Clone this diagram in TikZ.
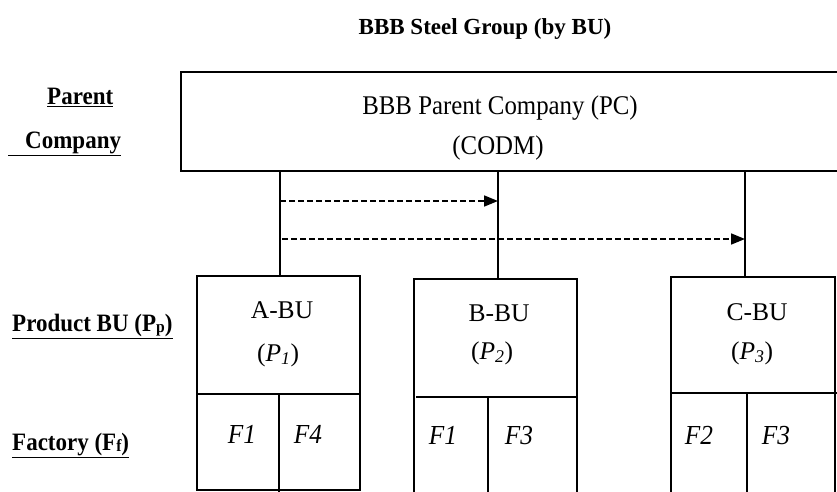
\documentclass[tikz,border=0pt]{standalone}
\usepackage{fontspec}
\setmainfont{Liberation Serif}
\newfontfamily\condserif[FakeStretch=0.92]{Liberation Serif}
\newcommand{\labsub}[1]{\raisebox{-0.15ex}{\fontsize{17}{17}\selectfont #1}}
\usetikzlibrary{arrows.meta}
\begin{document}
\begin{tikzpicture}[x=1pt,y=-1pt,
  box/.style={draw, line width=2pt, inner sep=0pt, outer sep=0pt, anchor=north west},
  split/.style={line width=2pt},
  conn/.style={line width=1.7pt},
  dasharrow/.style={line width=1.7pt, dash pattern=on 6pt off 3pt, -{Triangle[length=14pt,width=11pt]}},
  ttl/.style={font=\bfseries\fontsize{23}{27}\selectfont, anchor=base, inner sep=0pt},
  lbl/.style={font=\condserif\bfseries\fontsize{25}{29}\selectfont, anchor=base west, inner sep=0pt},
  maintxt/.style={font=\condserif\fontsize{27}{32}\selectfont, anchor=base, inner sep=0pt},
  butxt/.style={font=\fontsize{25.5}{30}\selectfont, anchor=base, inner sep=0pt},
  fac/.style={font=\condserif\itshape\fontsize{27.5}{32}\selectfont, anchor=base, inner sep=0pt},
]
\useasboundingbox[fill=white] (0,0) rectangle (837,492);

% title
\node[ttl] (title) at (485,35) {BBB Steel Group (by BU)};

% left labels
\node[lbl] (lparent) at (47,105) {\underline{Parent}};
\node[lbl] (lcompany) at (8,148) {\underline{\hspace{17pt}Company}};
\node[lbl] (lproduct) at (12,331) {\underline{Product BU (P\labsub{p})}};
\node[lbl] (lfactory) at (12,450) {\underline{Factory (F\labsub{f})}};

% parent company box
\node[box, line width=2.3pt, minimum width=690pt, minimum height=99pt] (pc) at (181,72) {};
\node[maintxt] (pc1) at (500,114) {BBB Parent Company (PC)};
\node[maintxt] (pc2) at (498,154) {(CODM)};

% BU boxes
\node[box, minimum width=163pt, minimum height=214pt] (abu) at (197,276) {};
\node[box, minimum width=163pt, minimum height=225pt] (bbu) at (414,279) {};
\node[box, minimum width=164pt, minimum height=225pt] (cbu) at (671,277) {};

% dividers
\draw[split] (197,394) -- (360,394);
\draw[split] (279,394) -- (279,492);
\draw[split] (416,397) -- (577,397);
\draw[split] (488,397) -- (488,500);
\draw[split] (671,393) -- (840,393);
\draw[split] (747,393) -- (747,500);

% BU texts
\node[butxt] (at1) at (282,318) {A-BU};
\node[butxt] (at2) at (278,361) {(\textit{P}\textsubscript{\textit{1}})};
\node[butxt] (bt1) at (499,321) {B-BU};
\node[butxt] (bt2) at (492,359) {(\textit{P}\textsubscript{\textit{2}})};
\node[butxt] (ct1) at (757,320) {C-BU};
\node[butxt] (ct2) at (752,359) {(\textit{P}\textsubscript{\textit{3}})};

% factories
\node[fac] (af1) at (242,443) {F1};
\node[fac] (af4) at (308,443) {F4};
\node[fac] (bf1) at (443,444) {F1};
\node[fac] (bf3) at (519,444) {F3};
\node[fac] (cf2) at (699,444) {F2};
\node[fac] (cf3) at (776,444) {F3};

% connectors
\coordinate (ta) at (280,276);
\coordinate (tb) at (498,279);
\coordinate (tc) at (745,277);
\draw[conn] (ta |- pc.south) -- (ta);
\draw[conn] (tb |- pc.south) -- (tb);
\draw[conn] (tc |- pc.south) -- (tc);

\coordinate (d1s) at (280,201);
\coordinate (d2s) at (282,239);
\draw[dasharrow] (d1s) -- (d1s -| tb);
\draw[dasharrow] (d2s) -- (d2s -| tc);
\end{tikzpicture}
\end{document}
